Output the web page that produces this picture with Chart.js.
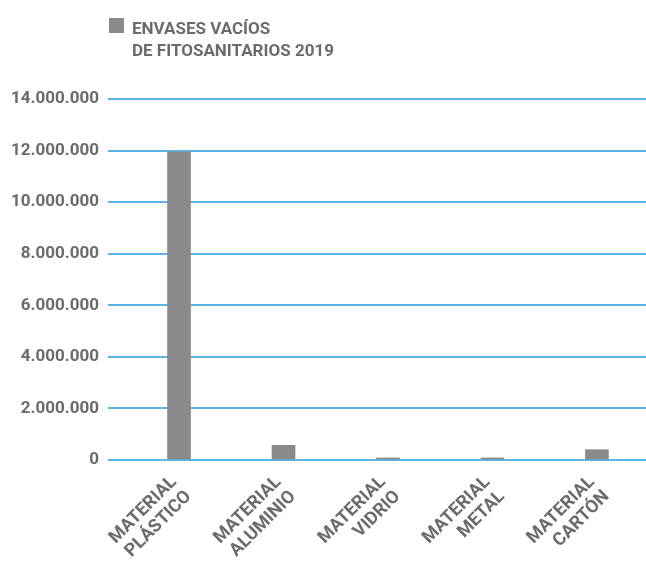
<!DOCTYPE html>
<html lang="es">
<head>
<meta charset="utf-8">
<title>Envases vacíos de fitosanitarios 2019</title>
<script src="https://cdn.jsdelivr.net/npm/chart.js@4.4.1/dist/chart.umd.min.js"></script>
<style>
    html, body { margin: 0; padding: 0; background: #ffffff; }
    #wrap { position: relative; width: 646px; height: 561px; }
    #leyenda {
        position: absolute; left: 109px; top: 14px;
        font-family: Roboto, "Liberation Sans", sans-serif;
        font-weight: bold; font-size: 17px; line-height: 22px; color: #6b6b6e;
    }
    #leyenda .caja {
        position: absolute; left: 0; top: 4px; width: 15px; height: 15px; background: #8a8a8c;
    }
    #leyenda .texto { margin-left: 23px; padding-top: 3px; }
</style>
</head>
<body>
<div id="wrap">
    <canvas id="grafico" width="646" height="561"></canvas>
    <div id="leyenda"><span class="caja"></span><div class="texto">ENVASES VACÍOS<br>DE FITOSANITARIOS 2019</div></div>
</div>
<script>
// Categorías (dos líneas por etiqueta) y kilos recogidos
const categorias = [
    ['MATERIAL', 'PLÁSTICO'],
    ['MATERIAL', 'ALUMINIO'],
    ['MATERIAL', 'VIDRIO'],
    ['MATERIAL', 'METAL'],
    ['MATERIAL', 'CARTÓN']
];
const envases2019 = [11950000, 570000, 80000, 80000, 400000];
const serieNombre = 'ENVASES VACÍOS DE FITOSANITARIOS 2019';

const GRIS_TEXTO = '#6b6b6e';
const GRIS_BARRA = '#8a8a8c';
const AZUL_REJILLA = '#5ab4e4';

const miles = v => String(v).replace(/\B(?=(\d{3})+(?!\d))/g, '.');

const ctx = document.getElementById('grafico').getContext('2d');
new Chart(ctx, {
    type: 'bar',
    data: {
        datasets: [{
            label: serieNombre,
            data: envases2019.map((v, i) => ({ x: i, y: v })),
            backgroundColor: GRIS_BARRA,
            barThickness: 23
        }]
    },
    options: {
        responsive: false,
        animation: false,
        layout: { padding: { top: 99, right: 0, bottom: 0, left: 0 } },
        plugins: {
            legend: { display: false },
            tooltip: { enabled: false }
        },
        scales: {
            x: {
                type: 'linear',
                offset: false,
                min: -0.68,
                max: 4.47,
                afterBuildTicks: scale => {
                    scale.ticks = categorias.map((c, i) => ({ value: i }));
                },
                afterFit: scale => { scale.height = 101; },
                grid: { display: false, drawTicks: false },
                border: { display: false },
                ticks: {
                    autoSkip: false,
                    minRotation: 45,
                    maxRotation: 45,
                    padding: 12,
                    labelOffset: -5,
                    color: GRIS_TEXTO,
                    font: { family: 'Roboto', weight: 'bold', size: 18, lineHeight: 1.15 },
                    callback: v => categorias[v] || ''
                }
            },
            y: {
                min: 0,
                max: 14000000,
                afterFit: scale => { scale.width = 108; },
                grid: { color: AZUL_REJILLA, lineWidth: 2, drawTicks: false },
                border: { display: false },
                ticks: {
                    stepSize: 2000000,
                    padding: 9,
                    color: GRIS_TEXTO,
                    font: { family: 'Roboto', weight: 'bold', size: 17 },
                    callback: v => miles(v)
                }
            }
        }
    }
});
</script>
</body>
</html>
